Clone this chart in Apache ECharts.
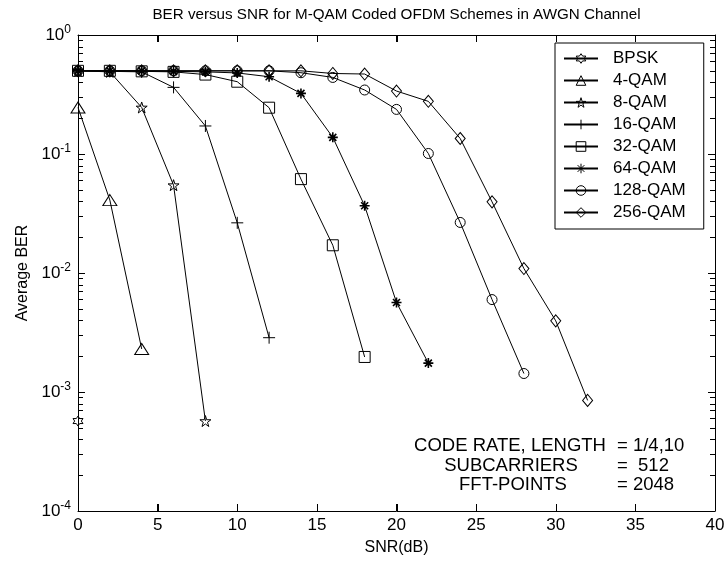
<!DOCTYPE html>
<html>
<head>
<meta charset="utf-8">
<script src="https://cdn.jsdelivr.net/npm/echarts@6/dist/echarts.min.js"></script>
<style>
html,body{margin:0;padding:0;background:#fff;}
#chart{width:727px;height:562px;}
</style>
</head>
<body>
<div id="chart"></div>
<script>
// ---- data ----
const titleText = 'BER versus SNR for M-QAM Coded OFDM Schemes in AWGN Channel';
const xName = 'SNR(dB)';
const yName = 'Average BER';
const xTicks = [0, 5, 10, 15, 20, 25, 30, 35, 40];
const yTicks = [1e-4, 1e-3, 1e-2, 1e-1, 1];
const yMinorTicks = [2e-4,3e-4,4e-4,5e-4,6e-4,7e-4,8e-4,9e-4,
                     2e-3,3e-3,4e-3,5e-3,6e-3,7e-3,8e-3,9e-3,
                     2e-2,3e-2,4e-2,5e-2,6e-2,7e-2,8e-2,9e-2,
                     0.2,0.3,0.4,0.5,0.6,0.7,0.8,0.9];
const seriesNames = ['BPSK','4-QAM','8-QAM','16-QAM','32-QAM','64-QAM','128-QAM','256-QAM'];

const snrBPSK = [0];
const berBPSK = [5.7e-4];
const snr4 = [0, 2, 4];
const ber4 = [0.246, 0.041, 0.0023];
const snr8 = [0, 2, 4, 6, 8];
const ber8 = [0.5, 0.49, 0.246, 0.0547, 0.00057];
const snr16 = [0, 2, 4, 6, 8, 10, 12];
const ber16 = [0.5, 0.495, 0.49, 0.363, 0.172, 0.0264, 0.00286];
const snr32 = [0, 2, 4, 6, 8, 10, 12, 14, 16, 18];
const ber32 = [0.5, 0.5, 0.495, 0.49, 0.465, 0.405, 0.245, 0.0615, 0.0171, 0.00197];
const snr64 = [0, 2, 4, 6, 8, 10, 12, 14, 16, 18, 20, 22];
const ber64 = [0.5, 0.5, 0.5, 0.495, 0.49, 0.48, 0.446, 0.323, 0.138, 0.0367, 0.00565, 0.00175];
const snr128 = [0, 2, 4, 6, 8, 10, 12, 14, 16, 18, 20, 22, 24, 26, 28];
const ber128 = [0.5, 0.5, 0.5, 0.5, 0.5, 0.5, 0.5, 0.482, 0.44, 0.345, 0.237, 0.101, 0.0266, 0.00598, 0.00143];
const snr256 = [0, 2, 4, 6, 8, 10, 12, 14, 16, 18, 20, 22, 24, 26, 28, 30, 32];
const ber256 = [0.5, 0.5, 0.5, 0.5, 0.5, 0.5, 0.5, 0.5, 0.475, 0.47, 0.338, 0.277, 0.135, 0.0396, 0.0109, 0.00396, 0.00085];

const noteLeft = ['CODE RATE, LENGTH', 'SUBCARRIERS', 'FFT-POINTS'];
const noteRight = ['= 1/4,10', '=  512', '= 2048'];

// ---- styling ----
const FONT = 'Liberation Sans';
const SYM_HEX = 'path://M5 0L6.44 2.5L9.33 2.5L7.89 5L9.33 7.5L6.44 7.5L5 10L3.56 7.5L0.67 7.5L2.11 5L0.67 2.5L3.56 2.5Z';
const SYM_STAR = 'path://M5 0L6.123 3.455L9.755 3.455L6.816 5.59L7.939 9.045L5 6.91L2.061 9.045L3.184 5.59L0.245 3.455L3.877 3.455Z';
const SYM_PLUS = 'path://M0 5L10 5M5 0L5 10';
const SYM_AST = 'path://M0 5L10 5M5 0L5 10M1.5 1.5L8.5 8.5M8.5 1.5L1.5 8.5';

const symbolDefs = [
  {symbol: SYM_HEX, size: 10, bw: 1},
  {symbol: 'triangle', size: [14, 11], bw: 1},
  {symbol: SYM_STAR, size: 11, bw: 1},
  {symbol: SYM_PLUS, size: 12, bw: 1},
  {symbol: 'rect', size: 11, bw: 1},
  {symbol: SYM_AST, size: 10, bw: 1.6},
  {symbol: 'circle', size: 10, bw: 1},
  {symbol: 'diamond', size: [10, 12], bw: 1}
];
const snrs = [snrBPSK, snr4, snr8, snr16, snr32, snr64, snr128, snr256];
const bers = [berBPSK, ber4, ber8, ber16, ber32, ber64, ber128, ber256];

const series = seriesNames.map((name, i) => ({
  name: name,
  type: 'line',
  data: snrs[i].map((x, j) => [x, bers[i][j]]),
  symbol: symbolDefs[i].symbol,
  symbolSize: symbolDefs[i].size,
  showAllSymbol: true,
  lineStyle: {color: '#000', width: 1},
  itemStyle: {color: 'rgba(0,0,0,0)', borderColor: '#000', borderWidth: symbolDefs[i].bw},
  z: 3
}));

function axisStyle() {
  return {
    axisLine: {show: true, onZero: false, lineStyle: {color: '#000', width: 1}},
    axisTick: {show: true, inside: true, length: 7, lineStyle: {color: '#000', width: 1}},
    splitLine: {show: false}
  };
}

const yLabelFormatter = function (v) {
  const e = Math.round(Math.log10(v));
  return '{b|10}{s|' + e + '}';
};

const chart = echarts.init(document.getElementById('chart'));
const gridLeft = 78, gridRight = 12, gridTop = 35, gridBottom = 51;
const plotCx = gridLeft + (727 - gridLeft - gridRight) / 2;
const noteFont = '18.5px "' + FONT + '"';

const noteGraphics = [
  {id: 'n0', type: 'text', x: 510, y: 446, style: {text: noteLeft[0], font: noteFont, fill: '#000', textAlign: 'center', textVerticalAlign: 'middle'}},
  {id: 'n1', type: 'text', x: 511, y: 465.5, style: {text: noteLeft[1], font: noteFont, fill: '#000', textAlign: 'center', textVerticalAlign: 'middle'}},
  {id: 'n2', type: 'text', x: 513, y: 485, style: {text: noteLeft[2], font: noteFont, fill: '#000', textAlign: 'center', textVerticalAlign: 'middle'}},
  {id: 'n3', type: 'text', x: 617, y: 446, style: {text: noteRight[0], font: noteFont, fill: '#000', textAlign: 'left', textVerticalAlign: 'middle'}},
  {id: 'n4', type: 'text', x: 617, y: 465.5, style: {text: noteRight[1], font: noteFont, fill: '#000', textAlign: 'left', textVerticalAlign: 'middle'}},
  {id: 'n5', type: 'text', x: 617, y: 485, style: {text: noteRight[2], font: noteFont, fill: '#000', textAlign: 'left', textVerticalAlign: 'middle'}}
];

chart.setOption({
  animation: false,
  title: {
    text: titleText,
    left: plotCx,
    top: 7,
    padding: 0,
    textAlign: 'center',
    textStyle: {fontFamily: FONT, fontSize: 15.2, fontWeight: 'normal', color: '#000'}
  },
  grid: {left: gridLeft, right: gridRight, top: gridTop, bottom: gridBottom, outerBoundsMode: 'none'},
  xAxis: [
    Object.assign({
      type: 'value', position: 'bottom', min: xTicks[0], max: xTicks[xTicks.length - 1], interval: 5,
      name: xName, nameLocation: 'middle', nameGap: 29,
      nameTextStyle: {fontFamily: FONT, fontSize: 16, color: '#000'},
      axisLabel: {show: true, margin: 6, fontFamily: FONT, fontSize: 17, color: '#000'}
    }, axisStyle()),
    Object.assign({
      type: 'value', position: 'top', min: xTicks[0], max: xTicks[xTicks.length - 1], interval: 5,
      axisLabel: {show: false}
    }, axisStyle())
  ],
  yAxis: [
    Object.assign({
      type: 'log', position: 'left', min: yTicks[0], max: yTicks[yTicks.length - 1],
      name: yName, nameLocation: 'middle', nameGap: 40, nameRotate: 90,
      nameTextStyle: {fontFamily: FONT, fontSize: 16, color: '#000'},
      axisLabel: {
        show: true, margin: 7, formatter: yLabelFormatter,
        rich: {
          b: {fontFamily: FONT, fontSize: 17, lineHeight: 17, color: '#000', verticalAlign: 'middle'},
          s: {fontFamily: FONT, fontSize: 12, lineHeight: 12, color: '#000', verticalAlign: 'middle', padding: [0, 0, 10, 0]}
        }
      }
    }, axisStyle()),
    Object.assign({
      type: 'log', position: 'right', min: yTicks[0], max: yTicks[yTicks.length - 1],
      axisLabel: {show: false}
    }, axisStyle())
  ],
  legend: {
    data: seriesNames,
    orient: 'vertical',
    left: 555,
    top: 43,
    padding: [7, 18, 8, 8],
    itemWidth: 34,
    itemHeight: 12,
    itemGap: 5,
    backgroundColor: '#fff',
    borderColor: '#000',
    borderWidth: 1,
    borderRadius: 0,
    selectedMode: false,
    itemStyle: {color: 'rgba(0,0,0,0)', borderColor: '#000', borderWidth: 1},
    textStyle: {fontFamily: FONT, fontSize: 17, lineHeight: 17, color: '#000', padding: [0, 0, 0, 10]}
  },
  graphic: {elements: noteGraphics},
  series: series
});

// Frame tick marks placed through the chart's own axis scales (convertToPixel)
const tickEls = [];
const xMin = xTicks[0], xMax = xTicks[xTicks.length - 1];
const yMin = yTicks[0], yMax = yTicks[yTicks.length - 1];
function px(x, y) { return chart.convertToPixel({gridIndex: 0}, [x, y]); }
function crisp(v) { return Math.round(v) + 0.5; }
function addLine(id, x1, y1, x2, y2) {
  tickEls.push({id: id, type: 'line', silent: true, z: 50,
    shape: {x1: x1, y1: y1, x2: x2, y2: y2},
    style: {stroke: '#000', lineWidth: 1}});
}
xTicks.forEach((v, i) => {
  const pb = px(v, yMin), pt = px(v, yMax);
  const cx = crisp(pb[0]);
  addLine('xb' + i, cx, pb[1], cx, pb[1] - 7);
  addLine('xt' + i, cx, pt[1], cx, pt[1] + 7);
});
yTicks.forEach((v, i) => {
  const pl = px(xMin, v), pr = px(xMax, v);
  const cy = crisp(pl[1]);
  addLine('yl' + i, pl[0], cy, pl[0] + 7, cy);
  addLine('yr' + i, pr[0], cy, pr[0] - 7, cy);
});
yMinorTicks.forEach((v, i) => {
  const pl = px(xMin, v), pr = px(xMax, v);
  const cy = crisp(pl[1]);
  addLine('ml' + i, pl[0], cy, pl[0] + 5, cy);
  addLine('mr' + i, pr[0], cy, pr[0] - 5, cy);
});
chart.setOption({graphic: {elements: noteGraphics.concat(tickEls)}});
</script>
</body>
</html>
